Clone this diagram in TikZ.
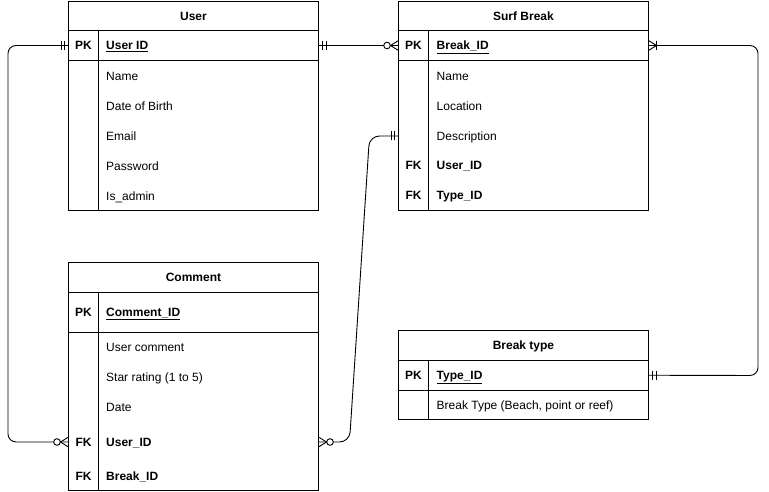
\documentclass[tikz,border=0pt]{standalone}
\usepackage{fontspec}
\setmainfont{Liberation Sans}
\tikzset{
  mandone/.pic={\draw[rel] (4,-4.5)--(4,4.5) (7.5,-4.5)--(7.5,4.5);},
  zeromany/.pic={\draw[rel] (0,-5)--(8,0)--(0,5); \draw[rel,fill=white] (11.5,0) circle (3.3pt);},
  onemany/.pic={\draw[rel] (0,-5)--(8,0)--(0,5) (8,-4.5)--(8,4.5);},
}
\begin{document}
\begin{tikzpicture}[x=1pt,y=-1pt,
    every node/.style={font=\fontsize{12}{14}\selectfont},
    tbl/.style={draw, line width=0.9pt, anchor=north west, minimum width=250pt, inner sep=0pt, outer sep=0pt},
    ttl/.style={font=\fontsize{12}{14}\selectfont\bfseries, text height=8.6pt, text depth=0pt},
    key/.style={font=\fontsize{12}{14}\selectfont\bfseries, text height=8.6pt, text depth=0pt, inner sep=0pt},
    fld/.style={anchor=west, inner sep=0pt, text height=8.6pt, text depth=0pt},
    kfld/.style={fld, font=\fontsize{12}{14}\selectfont\bfseries},
    rel/.style={line width=0.9pt},
  ]
  \useasboundingbox (0,0) rectangle (769,492);

  % User
  \node[tbl, minimum height=29.5pt] (user) at (68.5,1) {};
  \node[ttl] (usertitle) at (user.center) {User};
  \node[tbl, minimum height=30pt] (userpk) at (user.south west) {};
  \node[tbl, minimum height=149.5pt] (userbody) at (userpk.south west) {};
  \draw[line width=0.9pt] (98.5,30.5) -- (98.5,210);
  \node[key] (userpkk) at (83.5,45.7) {PK};
  \node[kfld] (userid) at (106,45.7) {\underline{User ID}};
  \node[fld] (username) at (106,76) {Name};
  \node[fld] (userdob) at (106,106) {Date of Birth};
  \node[fld] (useremail) at (106,136) {Email};
  \node[fld] (userpass) at (106,166) {Password};
  \node[fld] (useradmin) at (106,196) {Is\_admin};

  % Surf Break
  \node[tbl, minimum height=29.5pt] (brk) at (398.5,1) {};
  \node[ttl] (brktitle) at (brk.center) {Surf Break};
  \node[tbl, minimum height=30pt] (brkpk) at (brk.south west) {};
  \node[tbl, minimum height=149.5pt] (brkbody) at (brkpk.south west) {};
  \draw[line width=0.9pt] (428.5,30.5) -- (428.5,210);
  \node[key] (brkpkk) at (413.5,45.7) {PK};
  \node[kfld] (brkid) at (436.5,45.7) {\underline{Break\_ID}};
  \node[fld] (brkname) at (436.5,76) {Name};
  \node[fld] (brkloc) at (436.5,106) {Location};
  \node[fld] (brkdesc) at (436.5,136) {Description};
  \node[key] (brkfk1) at (413.5,165.5) {FK};
  \node[kfld] (brkuid) at (436.5,165.5) {User\_ID};
  \node[key] (brkfk2) at (413.5,195.5) {FK};
  \node[kfld] (brktid) at (436.5,195.5) {Type\_ID};

  % Comment
  \node[tbl, minimum height=30pt] (com) at (68.5,262.5) {};
  \node[ttl] (comtitle) at (com.center) {Comment};
  \node[tbl, minimum height=39.5pt] (compk) at (com.south west) {};
  \node[tbl, minimum height=158pt] (combody) at (compk.south west) {};
  \draw[line width=0.9pt] (98.5,292.5) -- (98.5,490);
  \node[key] (compkk) at (83.5,312.5) {PK};
  \node[kfld] (comid) at (106,312.5) {\underline{Comment\_ID}};
  \node[fld] (comtext) at (106,347) {User comment};
  \node[fld] (comstar) at (106,377) {Star rating (1 to 5)};
  \node[fld] (comdate) at (106,407) {Date};
  \node[key] (comfk1) at (83.5,442) {FK};
  \node[kfld] (comuid) at (106,442) {User\_ID};
  \node[key] (comfk2) at (83.5,476.5) {FK};
  \node[kfld] (combid) at (106,476.5) {Break\_ID};

  % Break type
  \node[tbl, minimum height=30pt] (typ) at (398.5,330.5) {};
  \node[ttl] (typtitle) at (typ.center) {Break type};
  \node[tbl, minimum height=29.5pt] (typpk) at (typ.south west) {};
  \node[tbl, minimum height=29.5pt] (typbody) at (typpk.south west) {};
  \draw[line width=0.9pt] (428.5,360.5) -- (428.5,419.5);
  \node[key] (typpkk) at (413.5,375.5) {PK};
  \node[kfld] (typid) at (436.5,375.5) {\underline{Type\_ID}};
  \node[fld] (typname) at (436.5,405.5) {Break Type (Beach, point or reef)};

  % relations
  \draw[rel] (userpk.east) -- (brkpk.west);
  \draw[rel, rounded corners=8pt] (userpk.west) -- (8,45.5) -- (8,442) -- (combody.west |- comuid);
  \draw[rel, rounded corners=10pt] (brkbody.west |- brkdesc) -- (369.5,136) -- (349.5,442) -- (combody.east |- comuid);
  \draw[rel, rounded corners=8pt] (brkpk.east) -- (758,45.5) -- (758,375.5) -- (typpk.east);

  \pic at (userpk.east) {mandone};
  \pic[rotate=180] at (brkpk.west) {zeromany};
  \pic[rotate=180] at (userpk.west) {mandone};
  \pic[rotate=180] at (combody.west |- comuid) {zeromany};
  \pic[rotate=180] at (brkbody.west |- brkdesc) {mandone};
  \pic at (combody.east |- comuid) {zeromany};
  \pic at (brkpk.east) {onemany};
  \pic at (typpk.east) {mandone};
\end{tikzpicture}
\end{document}
